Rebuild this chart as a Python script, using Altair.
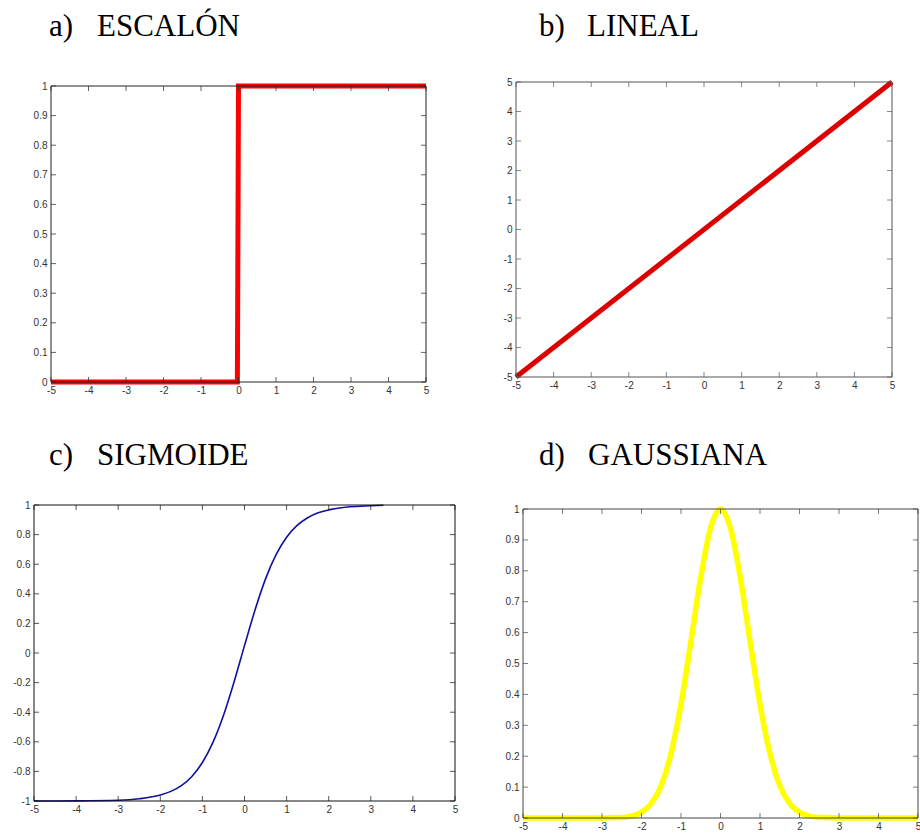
import altair as alt
import pandas as pd

# ---------------- data ----------------
# a) step (escalón)
step_x = [-5, -0.03, 0, 5]
step_y = [0, 0, 1, 1]

# b) linear
lin_x = [-5, 5]
lin_y = [-5, 5]

# c) sigmoid (tansig)
sig_x = [-5, -4, -3, -2.5, -2, -1.75, -1.5, -1.25, -1, -0.75, -0.5, -0.25, 0,
         0.25, 0.5, 0.75, 1, 1.25, 1.5, 1.75, 2, 2.5, 3, 3.3]
sig_y = [-1.0, -0.999, -0.995, -0.985, -0.96, -0.935, -0.896, -0.834, -0.74,
         -0.604, -0.422, -0.197, 0.05, 0.291, 0.501, 0.664, 0.782, 0.862,
         0.914, 0.947, 0.967, 0.988, 0.995, 0.998]

# d) gaussian
gau_x = [-5, -3, -2.75, -2.5, -2.25, -2, -1.75, -1.5, -1.25, -1, -0.75, -0.5,
         -0.25, 0, 0.25, 0.5, 0.75, 1, 1.25, 1.5, 1.75, 2, 2.25, 2.5, 2.75, 3, 5]
gau_y = [0, 0, 0.001, 0.002, 0.006, 0.018, 0.047, 0.105, 0.21, 0.368, 0.57,
         0.779, 0.939, 1, 0.939, 0.779, 0.57, 0.368, 0.21, 0.105, 0.047, 0.018,
         0.006, 0.002, 0.001, 0, 0]

# tick values
x_ticks = [-5, -4, -3, -2, -1, 0, 1, 2, 3, 4, 5]
y_ticks_01 = [0, 0.1, 0.2, 0.3, 0.4, 0.5, 0.6, 0.7, 0.8, 0.9, 1]
y_ticks_lin = [-5, -4, -3, -2, -1, 0, 1, 2, 3, 4, 5]
y_ticks_sig = [-1, -0.8, -0.6, -0.4, -0.2, 0, 0.2, 0.4, 0.6, 0.8, 1]

# titles
letters = ["a)", "b)", "c)", "d)"]
names = ["ESCALÓN", "LINEAL", "SIGMOIDE", "GAUSSIANA"]

W, H = 920, 836
LABEL_FONT = "Liberation Sans"
TITLE_FONT = "Liberation Serif"
one = pd.DataFrame({"k": [0]})


def panel(xs, ys, color, lw, interp, ydom, yticks, xr, yr, frame_color,
          letter, name, dx_letter, dx_name, dy):
    def xsc():
        return alt.Scale(domain=[-5, 5], range=xr, nice=False, zero=False)

    def ysc():
        return alt.Scale(domain=ydom, range=yr, nice=False, zero=False)

    common_axis = dict(domain=False, ticks=False, tickSize=0, grid=False,
                       labelFont=LABEL_FONT, labelFontSize=10,
                       labelColor="#333333", labelExpr="'' + datum.value",
                       labelOverlap=False, title=None)
    line = alt.Chart(pd.DataFrame({"x": xs, "y": ys, "i": list(range(len(xs)))})).mark_line(
        color=color, strokeWidth=lw, interpolate=interp
    ).encode(
        x=alt.X("x:Q", scale=xsc(),
                axis=alt.Axis(orient="bottom", values=x_ticks, offset=yr[0] - H,
                              labelPadding=3, labelFlush=False, **common_axis)),
        y=alt.Y("y:Q", scale=ysc(),
                axis=alt.Axis(orient="left", values=yticks, offset=-xr[0],
                              labelPadding=4, **common_axis)),
        order="i:Q",
    )
    xt = pd.DataFrame({"v": x_ticks})
    yt = pd.DataFrame({"v": yticks})
    tick_bottom = alt.Chart(xt).mark_tick(orient="vertical", size=5, thickness=1,
                                          color=frame_color, yOffset=-2.5).encode(
        x=alt.X("v:Q", scale=xsc(), axis=None),
        y=alt.YDatum(ydom[0], scale=ysc(), axis=None))
    tick_top = alt.Chart(xt).mark_tick(orient="vertical", size=5, thickness=1,
                                       color=frame_color, yOffset=2.5).encode(
        x=alt.X("v:Q", scale=xsc(), axis=None),
        y=alt.YDatum(ydom[1], scale=ysc(), axis=None))
    tick_left = alt.Chart(yt).mark_tick(orient="horizontal", size=5, thickness=1,
                                        color=frame_color, xOffset=2.5).encode(
        y=alt.Y("v:Q", scale=ysc(), axis=None),
        x=alt.XDatum(-5, scale=xsc(), axis=None))
    tick_right = alt.Chart(yt).mark_tick(orient="horizontal", size=5, thickness=1,
                                         color=frame_color, xOffset=-2.5).encode(
        y=alt.Y("v:Q", scale=ysc(), axis=None),
        x=alt.XDatum(5, scale=xsc(), axis=None))
    frame = alt.Chart(one).mark_rect(fillOpacity=0, stroke=frame_color, strokeWidth=1).encode(
        x=alt.XDatum(-5, scale=xsc(), axis=None), x2=alt.X2Datum(5),
        y=alt.YDatum(ydom[0], scale=ysc(), axis=None), y2=alt.Y2Datum(ydom[1]))
    t_letter = alt.Chart(one).mark_text(
        text=letter, font=TITLE_FONT, fontSize=31, align="left",
        baseline="alphabetic", dx=dx_letter, dy=dy, color="black").encode(
        x=alt.XDatum(-5, scale=xsc(), axis=None),
        y=alt.YDatum(ydom[1], scale=ysc(), axis=None))
    t_name = alt.Chart(one).mark_text(
        text=name, font=TITLE_FONT, fontSize=31, align="left",
        baseline="alphabetic", dx=dx_name, dy=dy, color="black").encode(
        x=alt.XDatum(-5, scale=xsc(), axis=None),
        y=alt.YDatum(ydom[1], scale=ysc(), axis=None))
    return [line, tick_bottom, tick_top, tick_left, tick_right,
            frame, t_letter, t_name]


layers = []
layers += panel(step_x, step_y, "#ff0000", 5, "linear", [0, 1], y_ticks_01,
                [51, 426], [382, 86], "#222222", letters[0], names[0], -2, 46, -50)
layers += panel(lin_x, lin_y, "#dd0000", 5, "linear", [-5, 5], y_ticks_lin,
                [516, 892], [377, 82], "#555555", letters[1], names[1], 23, 71, -46)
layers += panel(sig_x, sig_y, "#10109c", 1.6, "monotone", [-1, 1], y_ticks_sig,
                [34, 455], [801, 505], "#111111", letters[2], names[2], 15, 63, -40)
layers += panel(gau_x, gau_y, "#ffff00", 5.5, "monotone", [0, 1], y_ticks_01,
                [523, 918], [818, 509], "#444444", letters[3], names[3], 16, 65, -44)

chart = alt.layer(*layers).resolve_scale(
    x="independent", y="independent"
).resolve_axis(
    x="independent", y="independent"
).properties(
    width=W, height=H, padding=0,
    autosize=alt.AutoSizeParams(type="none"),
    background="white",
).configure_view(strokeWidth=0)

chart.save("out.html", embed_options={"renderer": "svg", "actions": False})
